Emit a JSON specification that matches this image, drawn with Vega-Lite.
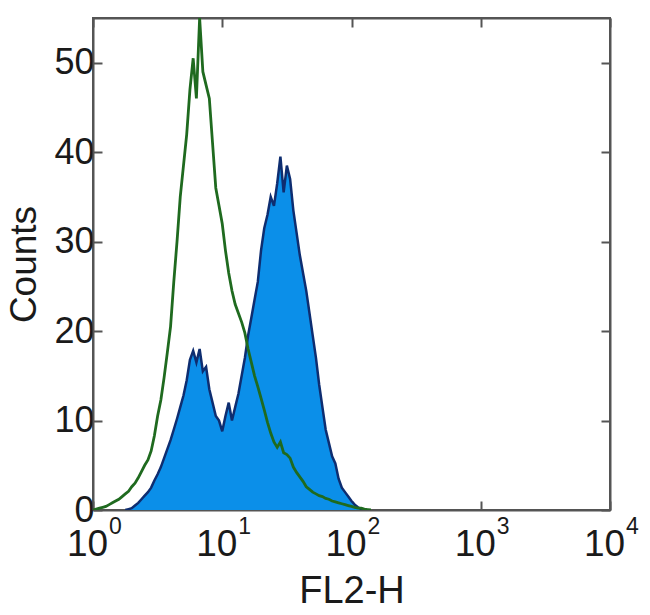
{
  "$schema": "https://vega.github.io/schema/vega-lite/v6.json",
  "width": 517,
  "height": 492,
  "autosize": {"type": "none"},
  "padding": {"left": 93, "top": 18, "right": 40, "bottom": 105},
  "background": "white",
  "config": {
    "view": {"stroke": "#555555", "strokeWidth": 2},
    "font": "Liberation Sans",
    "axis": {
      "grid": false,
      "domainColor": "#555555",
      "domainWidth": 2,
      "tickColor": "#555555",
      "tickWidth": 2,
      "labelFont": "Liberation Sans",
      "titleFont": "Liberation Sans",
      "labelColor": "#1a1a1a",
      "titleColor": "#1a1a1a",
      "titleFontWeight": "normal",
      "labelFlush": false,
      "labelOverlap": false
    }
  },
  "datasets": {
    "blue": [
      {"FL2H": 1.778, "count": 0}, {"FL2H": 1.884, "count": 0.1}, {"FL2H": 1.995, "count": 0.2}, {"FL2H": 2.113, "count": 0.5},
      {"FL2H": 2.239, "count": 0.8}, {"FL2H": 2.371, "count": 1.2}, {"FL2H": 2.512, "count": 1.6}, {"FL2H": 2.661, "count": 2.0},
      {"FL2H": 2.818, "count": 2.5}, {"FL2H": 2.985, "count": 3.3}, {"FL2H": 3.162, "count": 4.0}, {"FL2H": 3.350, "count": 4.8},
      {"FL2H": 3.548, "count": 5.8}, {"FL2H": 3.758, "count": 6.8}, {"FL2H": 3.981, "count": 7.8}, {"FL2H": 4.217, "count": 9.0},
      {"FL2H": 4.467, "count": 10.2}, {"FL2H": 4.732, "count": 11.5}, {"FL2H": 5.012, "count": 12.8}, {"FL2H": 5.309, "count": 14.5},
      {"FL2H": 5.623, "count": 16.8}, {"FL2H": 5.957, "count": 17.8}, {"FL2H": 6.310, "count": 16.5}, {"FL2H": 6.683, "count": 18.0},
      {"FL2H": 7.079, "count": 15.5}, {"FL2H": 7.499, "count": 16.0}, {"FL2H": 7.943, "count": 13.5}, {"FL2H": 8.414, "count": 12.0},
      {"FL2H": 8.913, "count": 10.5}, {"FL2H": 9.441, "count": 10.0}, {"FL2H": 10.00, "count": 8.8}, {"FL2H": 10.59, "count": 10.5},
      {"FL2H": 11.22, "count": 12.0}, {"FL2H": 11.89, "count": 10.0}, {"FL2H": 12.59, "count": 11.5}, {"FL2H": 13.34, "count": 13.0},
      {"FL2H": 14.13, "count": 15.0}, {"FL2H": 14.96, "count": 17.0}, {"FL2H": 15.85, "count": 19.5}, {"FL2H": 16.79, "count": 21.5},
      {"FL2H": 17.78, "count": 23.5}, {"FL2H": 18.84, "count": 25.5}, {"FL2H": 19.95, "count": 29.0}, {"FL2H": 21.13, "count": 31.5},
      {"FL2H": 22.39, "count": 33.0}, {"FL2H": 23.71, "count": 35.0}, {"FL2H": 25.12, "count": 34.0}, {"FL2H": 26.61, "count": 36.5},
      {"FL2H": 28.18, "count": 39.5}, {"FL2H": 29.85, "count": 35.5}, {"FL2H": 31.62, "count": 38.5}, {"FL2H": 33.50, "count": 37.0},
      {"FL2H": 35.48, "count": 33.5}, {"FL2H": 37.58, "count": 31.0}, {"FL2H": 39.81, "count": 28.5}, {"FL2H": 42.17, "count": 26.5},
      {"FL2H": 44.67, "count": 24.5}, {"FL2H": 47.32, "count": 22.0}, {"FL2H": 50.12, "count": 19.5}, {"FL2H": 53.09, "count": 17.0},
      {"FL2H": 56.23, "count": 14.0}, {"FL2H": 59.57, "count": 11.5}, {"FL2H": 63.10, "count": 9.0}, {"FL2H": 66.83, "count": 7.5},
      {"FL2H": 70.79, "count": 6.0}, {"FL2H": 74.99, "count": 5.2}, {"FL2H": 79.43, "count": 3.5}, {"FL2H": 84.14, "count": 2.5},
      {"FL2H": 89.13, "count": 2.0}, {"FL2H": 94.41, "count": 1.5}, {"FL2H": 100.0, "count": 1.0}, {"FL2H": 105.9, "count": 0.6},
      {"FL2H": 112.2, "count": 0.3}, {"FL2H": 118.9, "count": 0.1}, {"FL2H": 125.9, "count": 0}
    ],
    "green": [
      {"FL2H": 1.000, "count": 0}, {"FL2H": 1.059, "count": 0.1}, {"FL2H": 1.122, "count": 0.2}, {"FL2H": 1.189, "count": 0.3},
      {"FL2H": 1.259, "count": 0.4}, {"FL2H": 1.334, "count": 0.6}, {"FL2H": 1.413, "count": 0.8}, {"FL2H": 1.496, "count": 1.0},
      {"FL2H": 1.585, "count": 1.2}, {"FL2H": 1.679, "count": 1.5}, {"FL2H": 1.778, "count": 1.8}, {"FL2H": 1.884, "count": 2.1},
      {"FL2H": 1.995, "count": 2.6}, {"FL2H": 2.113, "count": 3.0}, {"FL2H": 2.239, "count": 3.6}, {"FL2H": 2.371, "count": 4.3},
      {"FL2H": 2.512, "count": 5.0}, {"FL2H": 2.661, "count": 5.6}, {"FL2H": 2.818, "count": 6.6}, {"FL2H": 2.985, "count": 8.3},
      {"FL2H": 3.162, "count": 10.5}, {"FL2H": 3.350, "count": 12.3}, {"FL2H": 3.548, "count": 14.8}, {"FL2H": 3.758, "count": 17.6},
      {"FL2H": 3.981, "count": 20.5}, {"FL2H": 4.217, "count": 25.5}, {"FL2H": 4.467, "count": 30.0}, {"FL2H": 4.732, "count": 35.0},
      {"FL2H": 5.012, "count": 38.5}, {"FL2H": 5.309, "count": 42.0}, {"FL2H": 5.623, "count": 47.0}, {"FL2H": 5.957, "count": 50.5},
      {"FL2H": 6.310, "count": 46.0}, {"FL2H": 6.683, "count": 55.0}, {"FL2H": 7.079, "count": 49.0}, {"FL2H": 7.499, "count": 47.5},
      {"FL2H": 7.943, "count": 46.0}, {"FL2H": 8.414, "count": 41.0}, {"FL2H": 8.913, "count": 36.0}, {"FL2H": 9.441, "count": 34.0},
      {"FL2H": 10.00, "count": 32.0}, {"FL2H": 10.59, "count": 29.0}, {"FL2H": 11.22, "count": 26.5}, {"FL2H": 11.89, "count": 24.5},
      {"FL2H": 12.59, "count": 23.0}, {"FL2H": 13.34, "count": 22.0}, {"FL2H": 14.13, "count": 21.0}, {"FL2H": 14.96, "count": 19.8},
      {"FL2H": 15.85, "count": 18.0}, {"FL2H": 16.79, "count": 16.5}, {"FL2H": 17.78, "count": 15.0}, {"FL2H": 18.84, "count": 13.8},
      {"FL2H": 19.95, "count": 12.5}, {"FL2H": 21.13, "count": 11.2}, {"FL2H": 22.39, "count": 9.8}, {"FL2H": 23.71, "count": 8.6},
      {"FL2H": 25.12, "count": 7.6}, {"FL2H": 26.61, "count": 7.0}, {"FL2H": 28.18, "count": 7.6}, {"FL2H": 29.85, "count": 6.4},
      {"FL2H": 31.62, "count": 6.2}, {"FL2H": 33.50, "count": 5.8}, {"FL2H": 35.48, "count": 4.8}, {"FL2H": 37.58, "count": 4.2},
      {"FL2H": 39.81, "count": 3.7}, {"FL2H": 42.17, "count": 3.2}, {"FL2H": 44.67, "count": 2.6}, {"FL2H": 47.32, "count": 2.3},
      {"FL2H": 50.12, "count": 2.0}, {"FL2H": 53.09, "count": 1.8}, {"FL2H": 56.23, "count": 1.6}, {"FL2H": 59.57, "count": 1.5},
      {"FL2H": 63.10, "count": 1.3}, {"FL2H": 66.83, "count": 1.2}, {"FL2H": 70.79, "count": 1.0}, {"FL2H": 74.99, "count": 0.9},
      {"FL2H": 79.43, "count": 0.8}, {"FL2H": 84.14, "count": 0.7}, {"FL2H": 89.13, "count": 0.6}, {"FL2H": 94.41, "count": 0.5},
      {"FL2H": 100.0, "count": 0.4}, {"FL2H": 105.9, "count": 0.3}, {"FL2H": 112.2, "count": 0.2}, {"FL2H": 118.9, "count": 0.2},
      {"FL2H": 125.9, "count": 0.1}, {"FL2H": 133.4, "count": 0.05}, {"FL2H": 141.3, "count": 0}
    ]
  },
  "layer": [
    {
      "data": {"name": "blue"},
      "mark": {"type": "area", "color": "#0b8fe9", "clip": true, "interpolate": "linear"},
      "encoding": {
        "x": {
          "field": "FL2H", "type": "quantitative",
          "scale": {"type": "log", "domain": [1, 10000], "nice": false},
          "axis": {
            "orient": "bottom", "values": [1, 10, 100, 1000, 10000],
            "labelExpr": "'10'", "labelOffset": -6, "labelFontSize": 37, "labelPadding": 25,
            "tickSize": -9, "title": "FL2-H", "titleFontSize": 38, "titlePadding": 10
          }
        },
        "y": {
          "field": "count", "type": "quantitative",
          "scale": {"domain": [0, 55], "nice": false, "zero": true},
          "axis": {
            "orient": "left", "values": [0, 10, 20, 30, 40, 50],
            "labelFontSize": 36, "labelPadding": 8, "tickSize": -9,
            "title": "Counts", "titleFontSize": 37, "titlePadding": 10
          }
        }
      }
    },
    {
      "data": {"name": "blue"},
      "mark": {"type": "line", "color": "#0e2d70", "strokeWidth": 2.5, "clip": true},
      "encoding": {
        "x": {
          "field": "FL2H", "type": "quantitative",
          "scale": {"type": "log", "domain": [1, 10000], "nice": false},
          "axis": {
            "orient": "bottom", "values": [1, 10, 100, 1000, 10000],
            "labelExpr": "'' + round(log(datum.value) / LN10)",
            "labelOffset": 22, "labelFontSize": 23, "labelPadding": 5,
            "ticks": false, "domain": false, "title": null
          }
        },
        "y": {
          "field": "count", "type": "quantitative",
          "scale": {"domain": [0, 55], "nice": false, "zero": true},
          "axis": {
            "orient": "right", "values": [0, 10, 20, 30, 40, 50],
            "labels": false, "tickSize": -9, "title": null
          }
        }
      }
    },
    {
      "data": {"name": "green"},
      "mark": {"type": "line", "color": "#1f6a1f", "strokeWidth": 2.8, "clip": true},
      "encoding": {
        "x": {
          "field": "FL2H", "type": "quantitative",
          "scale": {"type": "log", "domain": [1, 10000], "nice": false},
          "axis": {
            "orient": "top", "values": [1, 10, 100, 1000, 10000],
            "labels": false, "tickSize": -9, "title": null
          }
        },
        "y": {
          "field": "count", "type": "quantitative",
          "scale": {"domain": [0, 55], "nice": false, "zero": true},
          "axis": null
        }
      }
    }
  ],
  "resolve": {"axis": {"x": "independent", "y": "independent"}}
}
